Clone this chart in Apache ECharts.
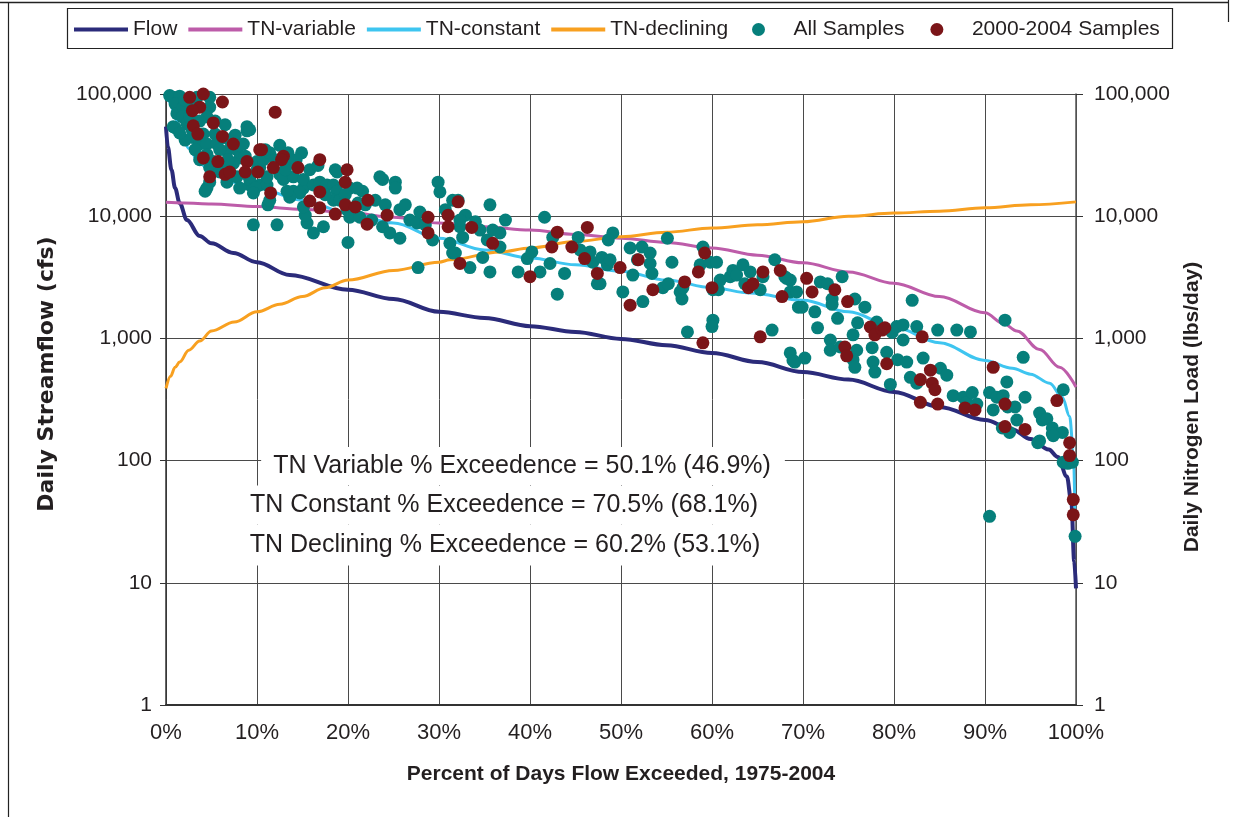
<!DOCTYPE html>
<html><head><meta charset="utf-8">
<script src="https://cdn.jsdelivr.net/npm/echarts@6.0.0/dist/echarts.min.js"></script>
<style>html,body{margin:0;padding:0;background:#fff}#chart{width:1235px;height:817px}</style>
</head><body><div id="chart"></div>
<script>
// ---- data: [percent of days flow exceeded, value] ----
const flow = [[0,54000],[0.2,37000],[0.6,24000],[1,17000],[1.5,12800],[2.3,9300],[3.7,6900],[5,6000],[7.4,5000],[10,4200],[13.6,3300],[20,2500],[25,2100],[30,1650],[35,1470],[40,1260],[45,1130],[50,990],[55,880],[60,760],[65,640],[70,530],[75,460],[80,365],[85,275],[90,215],[93,180],[95,150],[97,123],[98,107],[99,74],[99.5,45],[99.8,15],[100,9]];
const tnVariable = [[0,13000],[2,12800],[5,12600],[10,12000],[15,11400],[20,10700],[25,9800],[30,8800],[35,8200],[40,7700],[45,7100],[50,6600],[55,6100],[60,5500],[65,4800],[70,4150],[75,3500],[80,2830],[85,2200],[90,1620],[92,1330],[93.5,1150],[96,810],[98.2,580],[100,400]];
const tnConstant = [[0,105000],[0.5,84000],[1,65000],[1.5,51000],[2.5,36000],[3.7,27000],[5,23000],[7.4,19000],[10,17000],[15,13500],[20,10600],[25,8800],[30,6600],[35,5300],[40,4550],[45,4000],[50,3550],[55,3000],[60,2600],[64.2,2350],[70,2050],[75,1650],[80,1240],[85,920],[90,660],[93,570],[95,510],[97.1,430],[98.5,330],[99.3,230],[99.7,123],[99.9,32]];
const tnDeclining = [[0,390],[0.5,490],[1,580],[1.5,640],[2.5,800],[3.7,950],[5,1150],[7.5,1360],[10,1650],[12.5,1900],[15,2200],[17.5,2600],[20,3000],[25,3600],[30,4200],[31.2,4400],[36.7,5100],[40,5500],[45,6200],[50,6800],[55,7400],[60,8000],[65,8500],[70,9000],[75,10000],[80,10600],[85,11000],[90,11700],[95,12400],[100,13100]];
const allSamples = [
[0.4,97000],[0.8,94000],[1.5,96000],[1.0,83000],[1.2,69000],[1.9,78000],[1.8,65000],[0.8,54000],[2.3,57000],[2.6,65000],[3.0,83000],[3.4,94000],[4.8,94000],[4.8,78000],[4.5,65000],[4.1,47000],[3.0,44000],[2.9,50000],[3.7,39000],[4.5,39000],[5.4,47000],[5.6,39000],[6.3,44000],[6.7,34000],[7.8,35000],[8.5,39000],[8.9,50000],[8.1,30000],[7.4,27000],[6.3,27000],[5.2,28000],[4.5,32000],[4.8,25000],[5.9,23000],[6.7,19000],[7.8,21000],[8.9,22000],[9.2,18000],[8.1,17000],[4.5,17000],[4.8,19000],[10.3,25000],[10.3,18000],[11.1,18000],[10.0,28000],[1.0,53000],[8.9,54000],[14.9,33000],[9.6,8500],[12.2,8500],[4.3,16000],[11.2,12400],[13.6,15500],[15.1,17000],[15.5,8800],[16.2,7300],[17.3,8200],[18.6,24000],[20.0,6100],[21.6,16000],[23.8,20000],[25.2,19000],[25.2,17000],[23.8,8200],[24.6,7300],[25.7,6600],[26.8,9300],[27.6,8800],[29.3,6400],[29.9,19000],[30.1,15800],[31.5,13500],[32.3,8200],[32.6,6700],[31.2,6000],[31.5,5000],[33.4,3800],[35.6,12400],[35.6,3500],[27.7,3800],[35.3,6400],
[9.2,51000],[10.7,29000],[10.0,24000],[9.2,20000],[9.8,17000],[11.1,21000],[11.4,33000],[12.5,22000],[12.9,20000],[13.6,27000],[13.4,33000],[14.0,21000],[15.1,20000],[14.0,16000],[14.7,15500],[16.2,18000],[16.9,19000],[17.7,18000],[18.4,18000],[18.8,16000],[18.4,13500],[20.2,17000],[21.0,17000],[18.8,23000],[21.1,12800],[19.9,11300],[20.2,9800],[21.3,9800],[22.6,9300],[15.3,10200],[15.1,11900],[13.6,14300],[13.3,16000],[11.4,13500],[9.6,15500],[23.5,21000],
[2.1,89000],[3.7,60000],[5.4,60000],[6.5,56000],[7.0,42000],[7.6,46000],[8.7,31000],[6.8,29000],[3.7,29000],[3.2,35000],[2.1,42000],[1.5,48000],[5.9,35000],[10.9,35000],[12.0,29000],[12.5,38000],[13.1,24000],[14.3,29000],[15.8,24000],[16.7,26000],[17.5,15000],[19.1,13500],[19.7,15000],[21.9,12400],[23.0,13500],[24.1,12400],[25.7,11300],[26.3,12400],[27.9,10800],[28.5,8500],[30.7,11300],[32.9,10200],[34.0,9000],[34.5,7700],
[32.1,13500],[32.3,9300],[31.8,5000],[34.8,4600],[35.9,7700],[36.7,7300],[37.3,9300],[36.7,5600],[38.7,3500],[39.7,4500],[40.2,5100],[41.1,3500],[41.6,9800],[42.2,4100],[42.5,6700],[43.0,2300],[43.8,3400],[45.3,6700],[45.5,5300],[46.6,5100],[46.9,4200],[47.4,2800],[47.7,2800],[47.9,4600],[48.5,4000],[48.8,4400],[49.1,7300],[48.6,6400],[50.2,2400],[51.0,5500],[51.3,3300],[51.8,4400],[52.3,5600],[52.4,2000],[53.2,5000],[53.2,4100],[53.4,3400],[54.6,2600],[55.1,6600],[55.2,2800],[55.6,4200],[56.5,2400],[56.7,2100],[56.8,2600],[57.3,1130],[59.0,5600],[58.7,4000],[59.8,4200],[60.1,2500],[60.1,1410],[60.0,1250],[60.5,4200],[60.7,2500],[60.9,3000],[62.0,3200],[62.3,3600],[62.7,3300],[63.4,4000],[63.6,2800],[65.6,3200],[65.3,2500],[66.6,1170],[66.9,4400],[68.0,3200],[68.6,3000],[68.6,2400],[69.3,2400],[69.5,1800],[68.6,760],[68.9,660],
[64.2,3500],[68.2,3100],[69.9,1800],[69.1,640],[70.2,690],[71.9,2900],[72.7,2800],[74.3,3200],[73.2,2100],[73.2,1900],[71.3,1650],[73.8,1460],[71.6,1220],[73.0,970],[73.0,800],[74.1,850],[75.7,2100],[76.8,1800],[76.0,1340],[75.5,1070],[75.9,800],[75.5,670],[75.7,580],[77.7,640],[77.9,530],[77.6,840],[78.1,1360],[79.2,770],[79.6,420],[79.8,1120],[80.3,1250],[81.0,1290],[81.0,970],[80.4,670],[81.4,640],[81.8,480],[82.0,2050],[82.5,430],[83.2,690],[82.5,1250],[84.8,1170],[85.1,570],[85.8,500],[86.5,340],[86.9,1170],[87.6,330],[88.0,300],[88.4,1130],[88.6,360],[89.1,290],[90.5,360],[90.9,260],[91.3,330],[91.9,185],[92.2,1410],[92.4,440],[92.5,275],[93.3,275],[93.5,215],[94.4,330],[94.2,700],[96.0,245],[96.3,215],[96.0,145],[96.8,220],[97.4,185],[97.4,165],[98.5,170],[98.6,380],[98.6,97],[99.1,95],[90.5,35],[99.9,24],[92.0,340],[92.7,170],[95.8,140],[97.5,160],[99.6,97]
];
const samples2000to2004 = [
[2.6,94000],[4.1,100000],[6.2,86000],[3.7,78000],[2.9,73000],[3.0,55000],[3.5,47000],[5.2,58000],[6.2,45000],[7.4,39000],[4.1,30000],[5.7,28000],[8.9,28000],[10.3,35000],[4.8,21000],[6.5,22000],[7.0,23000],[8.7,23000],[10.1,23000],[12.0,71000],[10.5,35000],[12.9,31000],[12.7,29000],[11.8,25000],[14.5,25000],[16.9,29000],[19.9,24000],[19.7,19000],[11.5,15500],[15.8,13300],[16.9,15800],[16.9,11700],[18.6,10400],[19.7,12400],[20.8,11900],[22.2,13500],[22.1,8600],[24.3,10200],[28.8,9800],[28.8,7300],[31.0,10200],[31.0,8200],[32.1,13100],[33.6,8100],[32.3,4100],[35.9,6000],
[40.0,3200],[43.0,7400],[42.4,5600],[44.6,5600],[46.3,8100],[46.0,4500],[47.4,3400],[49.9,3800],[51.0,1870],[51.9,4400],[53.5,2500],[57.0,2900],[58.5,3500],[59.2,5000],[60.0,2600],[59.0,920],[64.0,2600],[64.5,2800],[65.6,3500],[65.3,1030],[67.5,3600],[67.7,2200],
[70.4,3100],[71.0,2400],[73.5,2500],[74.9,2000],[77.4,1240],[77.9,1070],[78.7,1170],[79.0,1220],[74.6,850],[74.8,720],[79.2,620],[83.1,1030],[84.0,550],[84.2,430],[84.5,380],[82.9,460],[82.9,300],[84.8,290],[87.8,270],[88.9,260],[90.9,580],[92.2,290],[92.2,190],[94.4,180],[97.9,310],[99.3,140],[99.3,110],[99.7,48],[99.7,36]
];
const xTickLabels = ['0%','10%','20%','30%','40%','50%','60%','70%','80%','90%','100%'];
const yTickLabels = ['1','10','100','1,000','10,000','100,000'];
const lineNames = ['Flow','TN-variable','TN-constant','TN-declining'];
const sampleNames = ['All Samples','2000-2004 Samples'];
const annotations = ['TN Variable % Exceedence = 50.1% (46.9%)','TN Constant % Exceedence = 70.5% (68.1%)','TN Declining % Exceedence = 60.2% (53.1%)'];
const axisTitles = {x:'Percent of Days Flow Exceeded, 1975-2004', yLeft:'Daily Streamflow (cfs)', yRight:'Daily Nitrogen Load (lbs/day)'};

const FONT = '"Liberation Sans", Arial, Helvetica, sans-serif';
const TXT = '#231f20';
const GRID = '#4a4a4a';

const chart = echarts.init(document.getElementById('chart'), null, {renderer:'canvas'});

function lineSeries(name, data, color, width, yIdx) {
  return {name, type:'line', data, yAxisIndex:yIdx, symbol:'none', showSymbol:false,
    smooth:0.35, smoothMonotone:'x', z:3,
    lineStyle:{color, width}, itemStyle:{color}};
}
const yLabelFmt = v => yTickLabels[Math.round(Math.log10(v))];
const yCommon = {type:'log', logBase:10, min:1, max:100000};
const legendText = {fontSize:21, fontFamily:FONT, color:TXT};

chart.setOption({
  animation:false,
  backgroundColor:'#fff',
  grid:{left:166, right:159, top:94, bottom:112, outerBoundsMode:'none'},
  legend:[
    {left:74, top:19, padding:0, itemGap:11, itemWidth:54, itemHeight:4, icon:'rect',
     textStyle:legendText, data:lineNames, selectedMode:false},
    {left:752, top:19, padding:0, itemGap:26, itemWidth:60, itemHeight:13, icon:'circle',
     textStyle:legendText, data:sampleNames, selectedMode:false}
  ],
  xAxis:{
    type:'value', min:0, max:100, interval:10,
    name:axisTitles.x, nameLocation:'middle', nameGap:59,
    nameTextStyle:{fontSize:21, fontWeight:'bold', fontFamily:FONT, color:TXT},
    axisLine:{lineStyle:{color:'#333', width:2}},
    axisTick:{show:false},
    axisLabel:{formatter:v => xTickLabels[Math.round(v/10)], margin:17, fontSize:22, fontFamily:FONT, color:TXT},
    splitLine:{show:true, lineStyle:{color:GRID, width:1}}
  },
  yAxis:[
    Object.assign({}, yCommon, {
      position:'left',
      axisLine:{show:true, lineStyle:{color:'#333', width:1.5}},
      axisTick:{show:true, length:6, lineStyle:{color:'#333'}},
      axisLabel:{formatter:yLabelFmt, margin:14, fontSize:21, fontFamily:FONT, color:TXT},
      splitLine:{show:true, lineStyle:{color:GRID, width:1}},
      minorTick:{show:false}, minorSplitLine:{show:false}
    }),
    Object.assign({}, yCommon, {
      position:'right',
      axisLine:{show:true, lineStyle:{color:'#555', width:1.5}},
      axisTick:{show:true, length:7, lineStyle:{color:'#333'}},
      axisLabel:{formatter:yLabelFmt, margin:18, fontSize:21, fontFamily:FONT, color:TXT},
      splitLine:{show:false}
    })
  ],
  series:[
    lineSeries('Flow', flow, '#2b2b7a', 4, 0),
    lineSeries('TN-variable', tnVariable, '#bd5ca9', 3, 1),
    lineSeries('TN-constant', tnConstant, '#3ec5f0', 3, 1),
    lineSeries('TN-declining', tnDeclining, '#f8a020', 3, 1),
    {name:'All Samples', type:'scatter', yAxisIndex:1, data:allSamples, symbol:'circle', symbolSize:13, z:4,
      itemStyle:{color:'#067f7b', opacity:1}},
    {name:'2000-2004 Samples', type:'scatter', yAxisIndex:1, data:samples2000to2004, symbol:'circle', symbolSize:13, z:5,
      itemStyle:{color:'#7b1518', opacity:1}}
  ],
  graphic:[
    {type:'line', z:10, shape:{x1:0, y1:2.5, x2:1229, y2:2.5}, style:{stroke:'#222', lineWidth:1.5}},
    {type:'line', z:10, shape:{x1:8.5, y1:2, x2:8.5, y2:817}, style:{stroke:'#222', lineWidth:1.2}},
    {type:'line', z:10, shape:{x1:1228.5, y1:0, x2:1228.5, y2:22}, style:{stroke:'#222', lineWidth:1.2}},
    {type:'rect', z:0, shape:{x:67.5, y:8.5, width:1105, height:40}, style:{fill:'#fff', stroke:'#222', lineWidth:1.2}},
    {type:'text', z:1, x:523, y:466, style:{text:annotations[0], font:'25px ' + FONT, fill:TXT,
      align:'center', verticalAlign:'middle', textAlign:'center', textVerticalAlign:'middle',
      backgroundColor:'#fff', padding:[6,14,7,12]}},
    {type:'text', z:1, x:504, y:505, style:{text:annotations[1], font:'25px ' + FONT, fill:TXT,
      align:'center', verticalAlign:'middle', textAlign:'center', textVerticalAlign:'middle',
      backgroundColor:'#fff', padding:[7,12,7,12]}},
    {type:'text', z:1, x:505, y:545, style:{text:annotations[2], font:'25px ' + FONT, fill:TXT,
      align:'center', verticalAlign:'middle', textAlign:'center', textVerticalAlign:'middle',
      backgroundColor:'#fff', padding:[7,12,9,12]}},
    {type:'text', z:10, x:47, y:374, rotation:Math.PI/2, style:{text:axisTitles.yLeft,
      font:'bold 22px "DejaVu Sans", sans-serif', fill:TXT,
      align:'center', verticalAlign:'middle', textAlign:'center', textVerticalAlign:'middle'}},
    {type:'text', z:10, x:1192, y:407, rotation:Math.PI/2, style:{text:axisTitles.yRight,
      font:'bold 21px ' + FONT, fill:TXT,
      align:'center', verticalAlign:'middle', textAlign:'center', textVerticalAlign:'middle'}}
  ]
});
</script>
</body></html>
